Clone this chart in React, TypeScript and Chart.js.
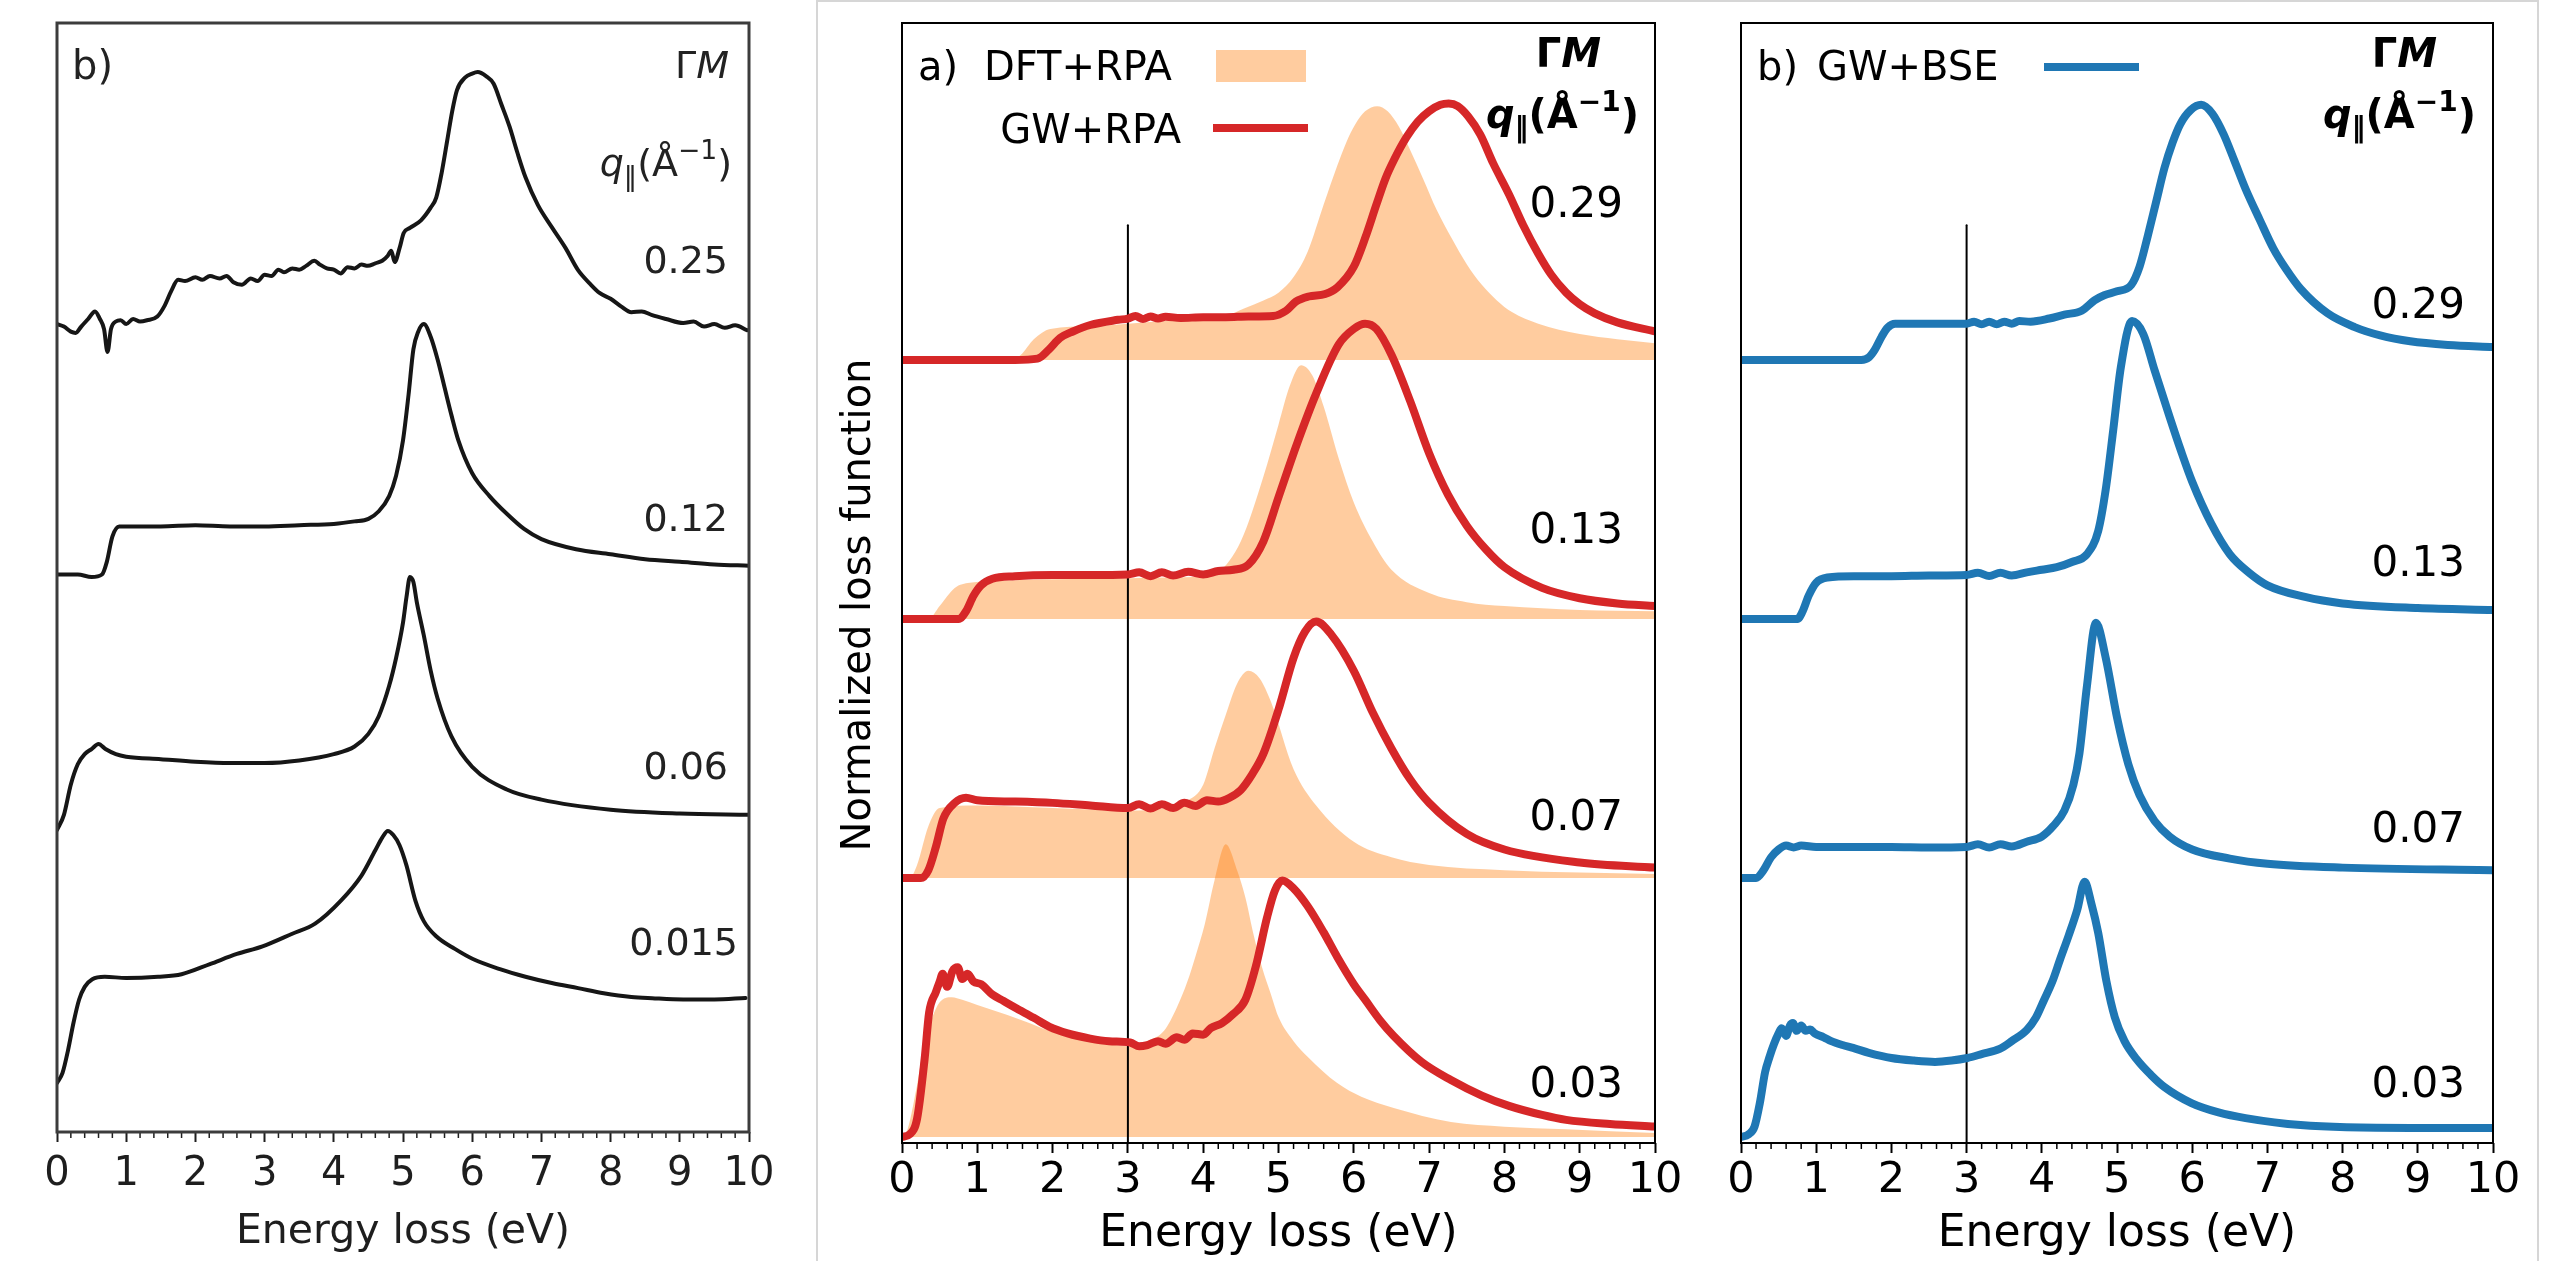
import React, { useEffect, useRef } from 'react';
import { Chart, registerables } from 'chart.js';

Chart.register(...registerables);

type Pt = [number, number];

// ---------------- data (energy in eV, normalized loss; each curve relative to its own baseline) ----------------
const X_TICKS = [0, 1, 2, 3, 4, 5, 6, 7, 8, 9, 10];
const Q_EXP = ['0.25', '0.12', '0.06', '0.015'];
const Q_THEORY = ['0.29', '0.13', '0.07', '0.03'];
const OFFSETS = [3, 2, 1, 0];
const MARK_ENERGY = 3;
const MARK_TOP = 3.52;

// Experimental (left panel), q = 0.25, 0.12, 0.06, 0.015
const EXP_025: Pt[] = [[0,0.0],[0.1,-0.01],[0.2,-0.03],[0.27,-0.035],[0.35,-0.01],[0.45,0.02],[0.55,0.05],[0.62,0.02],[0.68,-0.02],[0.73,-0.11],[0.78,-0.02],[0.85,0.01],[0.92,0.015],[1.0,0.0],[1.1,0.02],[1.2,0.01],[1.3,0.015],[1.45,0.03],[1.55,0.07],[1.65,0.13],[1.75,0.175],[1.85,0.17],[2.0,0.185],[2.1,0.175],[2.21,0.19],[2.35,0.18],[2.45,0.19],[2.55,0.165],[2.67,0.155],[2.8,0.18],[2.9,0.17],[3.0,0.195],[3.1,0.19],[3.2,0.215],[3.28,0.205],[3.4,0.22],[3.5,0.215],[3.6,0.23],[3.72,0.25],[3.8,0.235],[3.9,0.22],[4.0,0.215],[4.1,0.2],[4.2,0.225],[4.3,0.22],[4.4,0.235],[4.49,0.23],[4.6,0.24],[4.7,0.25],[4.78,0.27],[4.83,0.29],[4.88,0.245],[4.95,0.3],[5.01,0.36],[5.1,0.38],[5.26,0.41],[5.4,0.46],[5.48,0.5],[5.56,0.6],[5.64,0.727],[5.71,0.84],[5.78,0.925],[5.9,0.975],[6.0,0.99],[6.08,0.996],[6.2,0.98],[6.31,0.95],[6.42,0.87],[6.54,0.78],[6.65,0.68],[6.77,0.58],[6.95,0.47],[7.15,0.383],[7.35,0.3],[7.53,0.213],[7.7,0.16],[7.84,0.123],[8.0,0.1],[8.15,0.07],[8.3,0.047],[8.45,0.05],[8.6,0.035],[8.8,0.02],[9.05,0.004],[9.2,0.01],[9.35,-0.01],[9.5,0.0],[9.65,-0.015],[9.8,-0.005],[9.97,-0.024]];
const EXP_012: Pt[] = [[0,0.01],[0.3,0.01],[0.5,0.0],[0.65,0.01],[0.72,0.06],[0.8,0.16],[0.9,0.2],[1.0,0.2],[1.5,0.2],[2.0,0.205],[2.5,0.2],[3.0,0.2],[3.5,0.205],[4.0,0.21],[4.3,0.22],[4.5,0.23],[4.65,0.26],[4.8,0.32],[4.9,0.4],[5.0,0.54],[5.08,0.72],[5.15,0.9],[5.22,0.97],[5.3,1.0],[5.4,0.95],[5.5,0.86],[5.6,0.75],[5.7,0.64],[5.8,0.54],[6.0,0.41],[6.25,0.32],[6.5,0.25],[6.75,0.19],[7.0,0.15],[7.5,0.11],[8.0,0.09],[8.5,0.07],[9.0,0.06],[9.5,0.05],[10,0.045]];
const EXP_006: Pt[] = [[0,0],[0.1,0.06],[0.2,0.18],[0.3,0.26],[0.4,0.3],[0.5,0.32],[0.6,0.34],[0.7,0.32],[0.85,0.3],[1.0,0.29],[1.5,0.28],[2.0,0.27],[2.5,0.265],[3.0,0.265],[3.5,0.275],[4.0,0.3],[4.3,0.33],[4.5,0.38],[4.65,0.45],[4.8,0.57],[4.9,0.68],[5.0,0.82],[5.05,0.92],[5.1,1.0],[5.15,0.98],[5.2,0.9],[5.3,0.77],[5.4,0.63],[5.5,0.52],[5.7,0.37],[6.0,0.25],[6.5,0.16],[7.0,0.12],[8.0,0.08],[9.0,0.065],[10,0.06]];
const EXP_0015: Pt[] = [[0,0],[0.08,0.04],[0.16,0.13],[0.24,0.24],[0.32,0.33],[0.4,0.38],[0.51,0.41],[0.69,0.42],[1.0,0.415],[1.46,0.42],[1.8,0.43],[2.21,0.47],[2.6,0.51],[2.97,0.54],[3.4,0.59],[3.73,0.63],[4.11,0.723],[4.4,0.82],[4.6,0.92],[4.7,0.97],[4.78,0.996],[4.86,0.98],[4.95,0.94],[5.05,0.86],[5.18,0.72],[5.3,0.64],[5.48,0.58],[5.75,0.53],[6.01,0.49],[6.4,0.45],[6.77,0.42],[7.15,0.395],[7.53,0.375],[7.9,0.355],[8.3,0.34],[8.6,0.335],[9.05,0.33],[9.5,0.33],[9.95,0.336]];

// GW+RPA (red lines)
const GW_029: Pt[] = [[0,0],[1.5,0],[1.8,0.005],[1.95,0.04],[2.1,0.085],[2.27,0.11],[2.5,0.135],[2.87,0.155],[3.0,0.16],[3.1,0.17],[3.2,0.158],[3.3,0.168],[3.4,0.16],[3.5,0.167],[3.7,0.162],[4.0,0.165],[4.3,0.165],[4.6,0.168],[4.93,0.17],[5.1,0.19],[5.23,0.225],[5.4,0.245],[5.62,0.255],[5.78,0.28],[6.0,0.36],[6.15,0.47],[6.3,0.6],[6.42,0.7],[6.53,0.77],[6.7,0.86],[6.85,0.92],[7.0,0.96],[7.15,0.985],[7.26,0.99],[7.38,0.98],[7.52,0.94],[7.68,0.87],[7.85,0.76],[8.06,0.64],[8.25,0.52],[8.45,0.41],[8.62,0.33],[8.82,0.26],[9.0,0.215],[9.2,0.18],[9.5,0.145],[10,0.11]];
const GW_013: Pt[] = [[0,0],[0.75,0],[0.85,0.03],[0.95,0.09],[1.05,0.13],[1.2,0.155],[1.5,0.165],[2,0.17],[2.5,0.17],[3.0,0.172],[3.15,0.18],[3.3,0.165],[3.45,0.18],[3.6,0.168],[3.8,0.182],[4.0,0.172],[4.2,0.185],[4.4,0.19],[4.6,0.21],[4.8,0.3],[5.0,0.47],[5.25,0.68],[5.5,0.87],[5.8,1.06],[6.0,1.12],[6.15,1.14],[6.3,1.12],[6.5,1.02],[6.75,0.84],[7.0,0.64],[7.25,0.48],[7.5,0.36],[7.75,0.27],[8.0,0.2],[8.5,0.12],[9.0,0.08],[9.5,0.06],[10,0.05]];
const GW_007: Pt[] = [[0,0],[0.25,0],[0.35,0.03],[0.45,0.12],[0.55,0.23],[0.7,0.29],[0.85,0.31],[1.0,0.3],[1.5,0.295],[2.0,0.29],[2.5,0.28],[3.0,0.27],[3.15,0.285],[3.3,0.268],[3.45,0.285],[3.6,0.27],[3.75,0.29],[3.9,0.278],[4.05,0.3],[4.2,0.295],[4.35,0.31],[4.5,0.34],[4.65,0.4],[4.8,0.48],[5.0,0.65],[5.2,0.85],[5.35,0.95],[5.5,0.99],[5.7,0.94],[6.0,0.8],[6.25,0.64],[6.5,0.5],[6.75,0.38],[7.0,0.29],[7.5,0.17],[8.0,0.11],[9.0,0.06],[10,0.04]];
const GW_003: Pt[] = [[0,0],[0.1,0.01],[0.2,0.07],[0.3,0.3],[0.36,0.48],[0.45,0.56],[0.5,0.6],[0.54,0.63],[0.6,0.58],[0.67,0.64],[0.74,0.655],[0.8,0.61],[0.87,0.63],[0.95,0.6],[1.05,0.59],[1.2,0.55],[1.35,0.525],[1.5,0.5],[1.75,0.46],[1.96,0.425],[2.2,0.4],[2.5,0.38],[2.75,0.37],[3.03,0.365],[3.15,0.35],[3.26,0.355],[3.4,0.37],[3.5,0.36],[3.65,0.385],[3.75,0.375],[3.86,0.4],[4.0,0.395],[4.1,0.42],[4.25,0.44],[4.4,0.475],[4.56,0.53],[4.7,0.66],[4.85,0.85],[4.95,0.95],[5.05,0.99],[5.2,0.96],[5.39,0.89],[5.6,0.79],[5.78,0.695],[6.0,0.59],[6.15,0.53],[6.35,0.45],[6.53,0.39],[6.9,0.29],[7.29,0.22],[7.7,0.16],[8.06,0.12],[8.5,0.085],[8.82,0.066],[9.4,0.05],[10,0.04]];

// DFT+RPA (orange filled)
const DFT_029: Pt[] = [[0,0],[1.45,0],[1.58,0.02],[1.75,0.08],[1.97,0.12],[2.5,0.13],[3.0,0.14],[3.5,0.15],[4.0,0.155],[4.3,0.17],[4.55,0.2],[4.8,0.23],[5.0,0.26],[5.2,0.32],[5.39,0.42],[5.6,0.6],[5.78,0.75],[5.9,0.84],[6.02,0.91],[6.15,0.96],[6.31,0.98],[6.45,0.96],[6.6,0.9],[6.75,0.81],[6.92,0.7],[7.1,0.58],[7.3,0.47],[7.5,0.37],[7.7,0.29],[7.9,0.23],[8.1,0.185],[8.45,0.14],[9.0,0.1],[9.5,0.08],[10,0.065]];
const DFT_013: Pt[] = [[0,0],[0.35,0],[0.5,0.05],[0.7,0.12],[0.9,0.14],[1.5,0.15],[2.5,0.155],[3.5,0.16],[4.0,0.165],[4.2,0.18],[4.5,0.3],[4.8,0.55],[5.0,0.75],[5.15,0.9],[5.3,0.98],[5.45,0.94],[5.6,0.82],[5.8,0.62],[6.0,0.45],[6.25,0.3],[6.5,0.19],[7.0,0.1],[7.5,0.065],[8.0,0.05],[9.0,0.035],[10,0.03]];
const DFT_007: Pt[] = [[0,0],[0.1,0],[0.2,0.05],[0.35,0.2],[0.5,0.27],[1.0,0.28],[2.0,0.27],[3.0,0.26],[3.5,0.27],[3.8,0.3],[4.0,0.36],[4.15,0.5],[4.3,0.63],[4.45,0.75],[4.6,0.8],[4.75,0.77],[4.9,0.68],[5.2,0.42],[5.5,0.28],[6.0,0.14],[6.5,0.08],[7.0,0.05],[8.0,0.03],[10,0.015]];
const DFT_003: Pt[] = [[0,0],[0.05,0.01],[0.2,0.2],[0.3,0.37],[0.4,0.46],[0.5,0.52],[0.66,0.54],[0.8,0.53],[1.0,0.51],[1.2,0.49],[1.6,0.45],[1.96,0.41],[2.35,0.38],[2.73,0.36],[3.03,0.35],[3.25,0.37],[3.48,0.41],[3.65,0.5],[3.79,0.6],[3.9,0.7],[4.02,0.82],[4.15,0.99],[4.3,1.13],[4.45,1.03],[4.56,0.925],[4.67,0.78],[4.78,0.656],[4.9,0.55],[5.0,0.463],[5.2,0.37],[5.39,0.309],[5.78,0.208],[6.1,0.155],[6.53,0.112],[7.29,0.058],[8.0,0.04],[8.82,0.03],[10,0.015]];

// GW+BSE (blue lines)
const BSE_029: Pt[] = [[0,0],[1.6,0],[1.7,0.01],[1.78,0.04],[1.87,0.09],[1.95,0.125],[2.05,0.14],[2.5,0.14],[3.0,0.14],[3.1,0.148],[3.2,0.138],[3.3,0.148],[3.4,0.138],[3.5,0.148],[3.6,0.14],[3.7,0.15],[3.85,0.148],[4.1,0.16],[4.3,0.175],[4.53,0.19],[4.7,0.23],[4.83,0.25],[5.0,0.265],[5.19,0.29],[5.3,0.36],[5.41,0.48],[5.52,0.61],[5.63,0.74],[5.74,0.84],[5.84,0.91],[5.98,0.965],[6.12,0.985],[6.27,0.95],[6.42,0.87],[6.56,0.77],[6.71,0.66],[6.9,0.54],[7.08,0.43],[7.25,0.35],[7.44,0.275],[7.8,0.18],[8.16,0.127],[8.5,0.095],[8.9,0.072],[9.4,0.058],[10,0.05]];
const BSE_013: Pt[] = [[0,0],[0.75,0],[0.82,0.03],[0.9,0.09],[1.0,0.14],[1.15,0.16],[1.5,0.165],[2.0,0.165],[2.5,0.168],[3.0,0.17],[3.15,0.178],[3.3,0.166],[3.45,0.178],[3.6,0.168],[3.8,0.18],[4.0,0.19],[4.2,0.2],[4.4,0.22],[4.6,0.25],[4.75,0.34],[4.85,0.5],[4.95,0.73],[5.05,0.97],[5.2,1.15],[5.35,1.1],[5.5,0.96],[5.7,0.78],[5.85,0.65],[6.0,0.53],[6.25,0.37],[6.5,0.25],[6.75,0.18],[7.0,0.13],[7.5,0.085],[8.0,0.06],[9.0,0.042],[10,0.035]];
const BSE_007: Pt[] = [[0,0],[0.2,0],[0.3,0.03],[0.4,0.08],[0.5,0.11],[0.6,0.125],[0.7,0.118],[0.8,0.125],[1.0,0.12],[1.5,0.12],[2.0,0.12],[2.5,0.118],[3.0,0.12],[3.15,0.13],[3.3,0.118],[3.45,0.13],[3.6,0.122],[3.8,0.14],[4.0,0.16],[4.15,0.2],[4.3,0.26],[4.42,0.36],[4.5,0.48],[4.6,0.74],[4.72,0.985],[4.85,0.85],[5.0,0.62],[5.15,0.44],[5.3,0.32],[5.5,0.22],[5.7,0.16],[6.0,0.11],[6.5,0.075],[7.0,0.055],[8.0,0.04],[10,0.03]];
const BSE_003: Pt[] = [[0,0],[0.1,0.01],[0.18,0.04],[0.25,0.13],[0.32,0.25],[0.38,0.31],[0.44,0.36],[0.5,0.4],[0.54,0.42],[0.6,0.39],[0.65,0.43],[0.69,0.44],[0.74,0.41],[0.8,0.43],[0.86,0.41],[0.92,0.415],[0.98,0.4],[1.1,0.385],[1.2,0.37],[1.35,0.355],[1.49,0.344],[1.7,0.325],[2.0,0.305],[2.3,0.295],[2.58,0.29],[2.8,0.295],[3.01,0.305],[3.2,0.32],[3.44,0.34],[3.6,0.37],[3.8,0.413],[3.92,0.46],[4.03,0.529],[4.14,0.6],[4.24,0.683],[4.36,0.78],[4.47,0.876],[4.57,0.985],[4.66,0.9],[4.75,0.788],[4.86,0.6],[4.97,0.463],[5.1,0.37],[5.27,0.297],[5.45,0.24],[5.63,0.193],[5.99,0.131],[6.35,0.095],[6.71,0.073],[7.44,0.046],[8.9,0.035],[10,0.035]];

const EXP_CURVES = [EXP_025, EXP_012, EXP_006, EXP_0015];
const GW_CURVES = [GW_029, GW_013, GW_007, GW_003];
const DFT_CURVES = [DFT_029, DFT_013, DFT_007, DFT_003];
const BSE_CURVES = [BSE_029, BSE_013, BSE_007, BSE_003];

// ---------------- styling ----------------
const FAMILY = '"DejaVu Sans", sans-serif';
const RED = '#d62728';
const BLUE = '#1f77b4';
const FILL = 'rgba(255,127,14,0.4)';
const EXP_COLOR = '#161616';
const MINOR_TICKS: number[] = [];
X_TICKS.slice(0, -1).forEach((k) => [0.2, 0.4, 0.6, 0.8].forEach((f) => MINOR_TICKS.push(k + f)));

const toXY = (c: Pt[], off: number) => c.map(([x, y]) => ({ x, y: y + off }));

type Run = { t: string; italic?: boolean; scale?: number; dy?: number };

function fontStr(size: number, italic?: boolean, bold?: boolean) {
  return `${italic ? 'italic ' : ''}${bold ? 'bold ' : ''}${size}px ${FAMILY}`;
}

function text(ctx: CanvasRenderingContext2D, s: string, x: number, y: number, size: number, color: string, align: CanvasTextAlign = 'left', bold = false) {
  ctx.font = fontStr(size, false, bold);
  ctx.textAlign = align;
  ctx.textBaseline = 'alphabetic';
  ctx.fillStyle = color;
  ctx.fillText(s, x, y);
}

function runsRight(ctx: CanvasRenderingContext2D, runs: Run[], xRight: number, y: number, size: number, color: string, bold = false) {
  const m = runs.map((r) => {
    const s = size * (r.scale ?? 1);
    ctx.font = fontStr(s, r.italic, bold);
    return { ...r, s, w: ctx.measureText(r.t).width };
  });
  let x = xRight - m.reduce((a, b) => a + b.w, 0);
  ctx.textAlign = 'left';
  ctx.textBaseline = 'alphabetic';
  ctx.fillStyle = color;
  for (const r of m) {
    ctx.font = fontStr(r.s, r.italic, bold);
    ctx.fillText(r.t, x, y + (r.dy ?? 0));
    x += r.w;
  }
}

const GM_RUNS: Run[] = [{ t: 'Γ' }, { t: 'M', italic: true }];
const Q_RUNS: Run[] = [
  { t: 'q', italic: true },
  { t: '‖', scale: 0.7, dy: 9 },
  { t: '(' },
  { t: 'Å' },
  { t: '−1', scale: 0.7, dy: -17 },
  { t: ')' },
];

type Panel = {
  left: number; width: number;
  area: { l: number; r: number; t: number; b: number };
  yMin: number; yMax: number;
  xHeight: number; tickPad: number; tickSize: number; labelSize: number;
  color: string; frameColor: string; frameWidth: number;
  datasets: any[];
  annotate: (ctx: CanvasRenderingContext2D, ox: number) => void;
};

const LEFT_PANEL: Panel = {
  left: 0, width: 812,
  area: { l: 57, r: 749, t: 23, b: 1132 },
  yMin: -0.1937, yMax: 4.19,
  xHeight: 125, tickPad: 9, tickSize: 40, labelSize: 41,
  color: '#1e1e1e', frameColor: '#3c3c3c', frameWidth: 3,
  datasets: EXP_CURVES.map((c, i) => ({
    data: toXY(c, OFFSETS[i]), borderColor: EXP_COLOR, borderWidth: 4, fill: false, order: 0,
  })),
  annotate: (ctx, ox) => {
    const c = '#222';
    text(ctx, 'b)', 72 - ox, 79, 40, c);
    runsRight(ctx, GM_RUNS, 729 - ox, 78, 38, c);
    runsRight(ctx, Q_RUNS, 732 - ox, 176, 38, c);
    const ys = [273, 531, 779, 955];
    Q_EXP.forEach((q, i) => text(ctx, q, (i === 3 ? 738 : 728) - ox, ys[i], 38, c, 'right'));
  },
};

const theoryArea = { t: 23, b: 1143 };

const MID_PANEL: Panel = {
  left: 820, width: 880,
  area: { l: 902, r: 1655, ...theoryArea },
  yMin: -0.0232, yMax: 4.301,
  xHeight: 118, tickPad: 2, tickSize: 43, labelSize: 44,
  color: '#000', frameColor: '#000', frameWidth: 2,
  datasets: [
    ...GW_CURVES.map((c, i) => ({ data: toXY(c, OFFSETS[i]), borderColor: RED, borderWidth: 8, fill: false, order: 0 })),
    { data: [{ x: MARK_ENERGY, y: -0.1 }, { x: MARK_ENERGY, y: MARK_TOP }], borderColor: '#000', borderWidth: 2, fill: false, order: 1, tension: 0, cubicInterpolationMode: 'default' },
    ...DFT_CURVES.map((c, i) => ({ data: toXY(c, OFFSETS[i]), borderColor: 'rgba(0,0,0,0)', borderWidth: 0, backgroundColor: FILL, fill: { value: OFFSETS[i] }, order: 2 })),
  ],
  annotate: (ctx, ox) => {
    text(ctx, 'a)', 918 - ox, 80, 40, '#000');
    text(ctx, 'DFT+RPA', 984 - ox, 80, 40, '#000');
    ctx.fillStyle = FILL;
    ctx.fillRect(1216 - ox, 50, 90, 32);
    text(ctx, 'GW+RPA', 1181 - ox, 143, 40, '#000', 'right');
    ctx.strokeStyle = RED; ctx.lineWidth = 8; ctx.lineCap = 'butt';
    ctx.beginPath(); ctx.moveTo(1213 - ox, 128); ctx.lineTo(1308 - ox, 128); ctx.stroke();
    runsRight(ctx, GM_RUNS, 1601 - ox, 67, 40, '#000', true);
    runsRight(ctx, Q_RUNS, 1639 - ox, 128, 40, '#000', true);
    const ys = [217, 543, 830, 1097];
    Q_THEORY.forEach((q, i) => text(ctx, q, 1623 - ox, ys[i], 42, '#000', 'right'));
    ctx.save();
    ctx.translate(870 - ox, 605);
    ctx.rotate(-Math.PI / 2);
    text(ctx, 'Normalized loss function', 0, 0, 40, '#000', 'center');
    ctx.restore();
  },
};

const RIGHT_PANEL: Panel = {
  left: 1700, width: 856,
  area: { l: 1741, r: 2493, ...theoryArea },
  yMin: -0.0232, yMax: 4.301,
  xHeight: 118, tickPad: 2, tickSize: 43, labelSize: 44,
  color: '#000', frameColor: '#000', frameWidth: 2,
  datasets: [
    ...BSE_CURVES.map((c, i) => ({ data: toXY(c, OFFSETS[i]), borderColor: BLUE, borderWidth: 8, fill: false, order: 0 })),
    { data: [{ x: MARK_ENERGY, y: -0.1 }, { x: MARK_ENERGY, y: MARK_TOP }], borderColor: '#000', borderWidth: 2, fill: false, order: 1, tension: 0, cubicInterpolationMode: 'default' },
  ],
  annotate: (ctx, ox) => {
    text(ctx, 'b)', 1757 - ox, 80, 40, '#000');
    text(ctx, 'GW+BSE', 1817 - ox, 80, 40, '#000');
    ctx.strokeStyle = BLUE; ctx.lineWidth = 8; ctx.lineCap = 'butt';
    ctx.beginPath(); ctx.moveTo(2044 - ox, 67); ctx.lineTo(2139 - ox, 67); ctx.stroke();
    runsRight(ctx, GM_RUNS, 2437 - ox, 67, 40, '#000', true);
    runsRight(ctx, Q_RUNS, 2476 - ox, 128, 40, '#000', true);
    const ys = [318, 576, 842, 1097];
    Q_THEORY.forEach((q, i) => text(ctx, q, 2465 - ox, ys[i], 42, '#000', 'right'));
  },
};

const PANELS = [LEFT_PANEL, MID_PANEL, RIGHT_PANEL];
const H = 1261;

function build(canvas: HTMLCanvasElement, p: Panel, idx: number) {
  const ox = p.left;
  const padBottom = H - p.area.b - p.xHeight;
  const deco = {
    id: 'deco' + idx,
    afterDraw(chart: any) {
      const { ctx, chartArea: a, scales } = chart;
      const x = scales.x;
      ctx.save();
      ctx.strokeStyle = p.color;
      ctx.lineWidth = 1.5;
      for (const v of MINOR_TICKS) {
        const px = x.getPixelForValue(v);
        ctx.beginPath(); ctx.moveTo(px, a.bottom); ctx.lineTo(px, a.bottom + 6); ctx.stroke();
      }
      ctx.lineWidth = p.frameWidth;
      ctx.strokeStyle = p.frameColor;
      ctx.strokeRect(a.left, a.top, a.right - a.left, a.bottom - a.top);
      p.annotate(ctx, ox);
      ctx.restore();
    },
  };
  return new Chart(canvas, {
    type: 'line',
    data: { datasets: p.datasets },
    options: {
      animation: false,
      responsive: false,
      maintainAspectRatio: false,
      devicePixelRatio: 1,
      events: [],
      layout: {
        autoPadding: false,
        padding: { left: p.area.l - ox, right: ox + p.width - p.area.r, top: p.area.t, bottom: padBottom },
      },
      elements: {
        point: { radius: 0 },
        line: { cubicInterpolationMode: 'monotone', borderCapStyle: 'round', borderJoinStyle: 'round' },
      },
      plugins: { legend: { display: false }, tooltip: { enabled: false }, title: { display: false } },
      scales: {
        x: {
          type: 'linear', min: 0, max: 10,
          afterBuildTicks: (s: any) => { s.ticks = X_TICKS.map((v) => ({ value: v })); },
          ticks: { font: { family: FAMILY, size: p.tickSize }, color: p.color, padding: p.tickPad, maxRotation: 0, autoSkip: false },
          grid: { display: true, drawOnChartArea: false, drawTicks: true, tickLength: 10, tickWidth: 2, tickColor: p.color },
          border: { display: false },
          title: { display: true, text: 'Energy loss (eV)', font: { family: FAMILY, size: p.labelSize }, color: p.color, padding: { top: 0, bottom: 0 } },
          afterFit: (s: any) => { s.height = p.xHeight; },
        },
        y: { type: 'linear', display: false, min: p.yMin, max: p.yMax },
      },
    } as any,
    plugins: [deco],
  });
}

export default function App() {
  const r0 = useRef<HTMLCanvasElement>(null);
  const r1 = useRef<HTMLCanvasElement>(null);
  const r2 = useRef<HTMLCanvasElement>(null);
  const refs = [r0, r1, r2];

  useEffect(() => {
    document.body.style.margin = '0';
    document.body.style.overflow = 'hidden';
    const charts = PANELS.map((p, i) => build(refs[i].current as HTMLCanvasElement, p, i));
    return () => charts.forEach((c) => c.destroy());
  }, []);

  return (
    <div style={{ position: 'absolute', left: 0, top: 0, width: 2556, height: H, background: '#fff', overflow: 'hidden' }}>
      <div style={{ position: 'absolute', left: 816, top: 0, width: 1723, height: H + 20, border: '2px solid #d6d6d6', borderBottom: 'none', boxSizing: 'border-box' }} />
      {PANELS.map((p, i) => (
        <canvas
          key={i}
          ref={refs[i]}
          width={p.width}
          height={H}
          style={{ position: 'absolute', left: p.left, top: 0, width: p.width, height: H, display: 'block' }}
        />
      ))}
    </div>
  );
}
